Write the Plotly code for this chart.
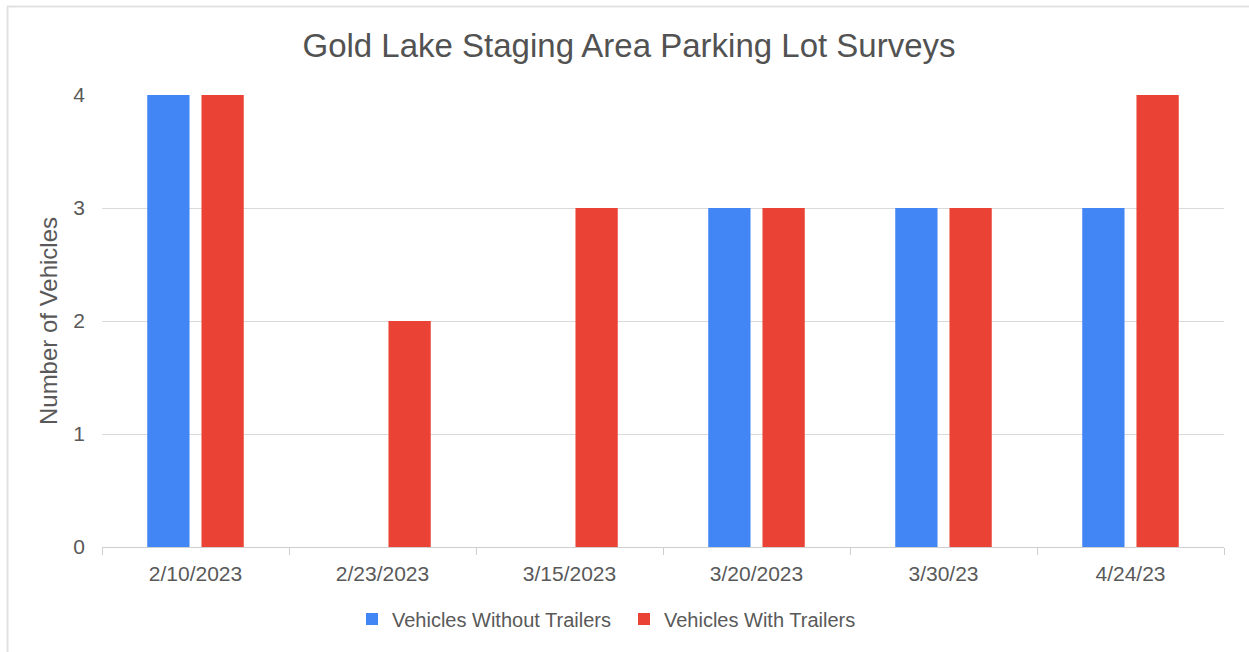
import plotly.graph_objects as go

# Survey dates and vehicle counts
dates = ["2/10/2023", "2/23/2023", "3/15/2023", "3/20/2023", "3/30/23", "4/24/23"]
without_trailers = [4, 0, 0, 3, 3, 3]
with_trailers = [4, 2, 3, 3, 3, 4]
y_ticks = [0, 1, 2, 3, 4]

BLUE = "#4285F4"
RED = "#EA4335"
TEXT = "#595959"
GRID = "#DADADA"
FONT = "Liberation Sans, Arial, sans-serif"

W, H = 1249, 652
L, R, T, B = 102, 25, 95, 105


def px_x(p):
    return (p - L) / (W - L - R)


def px_y(p):
    return (H - B - p) / (H - T - B)


fig = go.Figure()
fig.add_trace(go.Bar(x=dates, y=without_trailers, name="Vehicles Without Trailers",
                     marker=dict(color=BLUE, line=dict(width=0))))
fig.add_trace(go.Bar(x=dates, y=with_trailers, name="Vehicles With Trailers",
                     marker=dict(color=RED, line=dict(width=0))))

fig.update_layout(
    width=W, height=H,
    margin=dict(l=L, r=R, t=T, b=B, autoexpand=False),
    paper_bgcolor="white", plot_bgcolor="white",
    font=dict(family=FONT, color=TEXT, size=20),
    barmode="group", bargap=0.42, bargroupgap=0.22,
    title=dict(text="Gold Lake Staging Area Parking Lot Surveys",
               x=629 / W, xanchor="center", y=1 - 45 / H, yanchor="middle",
               yref="container",
               font=dict(family=FONT, size=33, color="#525252")),
    showlegend=True,
    legend=dict(orientation="h", x=px_x(352), xanchor="left",
                y=px_y(619), yanchor="middle", entrywidth=227,
                font=dict(family=FONT, size=20, color=TEXT),
                bgcolor="rgba(0,0,0,0)", itemwidth=30),
    xaxis=dict(
        type="category", showgrid=False, showline=True, linecolor="#CFCFCF",
        linewidth=1, ticks="outside", tickson="boundaries", ticklen=7,
        tickcolor="#CFCFCF", tickfont=dict(size=21, color=TEXT),
        ticklabelstandoff=8, automargin=False,
    ),
    yaxis=dict(
        range=[0, 4], tickvals=y_ticks, showgrid=True, gridcolor=GRID,
        gridwidth=1, zeroline=False, showline=False,
        ticks="", ticklabelstandoff=16, tickfont=dict(size=21, color=TEXT),
        title=dict(text="Number of Vehicles", font=dict(size=24, color=TEXT),
                   standoff=8),
        automargin=False,
    ),
    shapes=[
        dict(type="line", xref="paper", yref="paper",
             x0=px_x(7.5), x1=px_x(7.5), y0=px_y(6), y1=px_y(660),
             line=dict(color="#E2E2E2", width=2)),
        dict(type="line", xref="paper", yref="paper",
             x0=px_x(7), x1=px_x(1260), y0=px_y(6.5), y1=px_y(6.5),
             line=dict(color="#E2E2E2", width=2)),
    ],
)

fig.write_html("out.html")
